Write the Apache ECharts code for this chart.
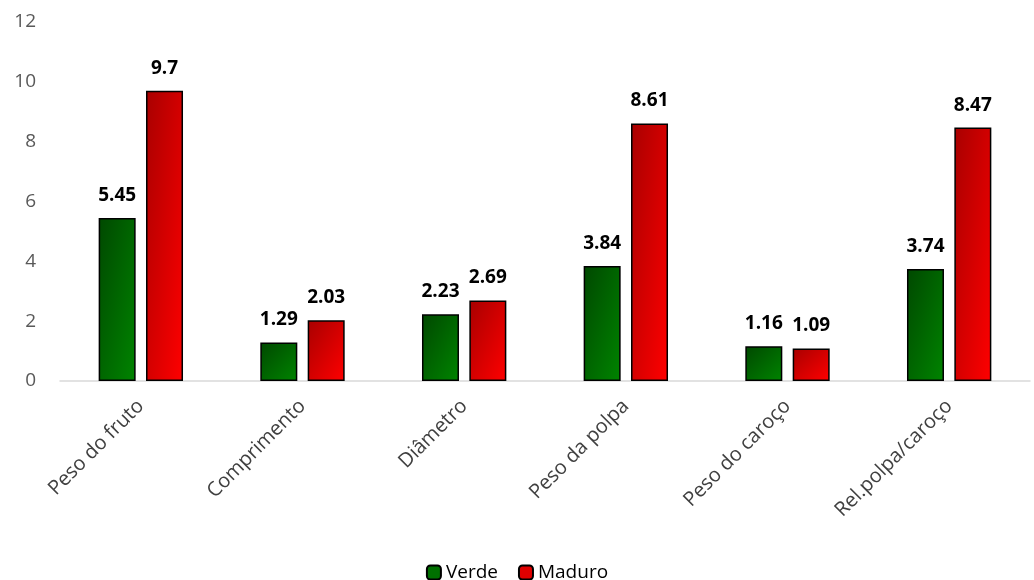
<!DOCTYPE html>
<html>
<head>
<meta charset="utf-8">
<script src="https://cdn.jsdelivr.net/npm/echarts@6/dist/echarts.min.js"></script>
<style>
  html, body { margin: 0; padding: 0; background: #fff; }
  #chart { width: 1034px; height: 580px; }
</style>
</head>
<body>
<div id="chart"></div>
<script>
var categorias = ['Peso do fruto', 'Comprimento', 'Diâmetro', 'Peso da polpa', 'Peso do caroço', 'Rel.polpa/caroço'];
var verde = [5.45, 1.29, 2.23, 3.84, 1.16, 3.74];
var maduro = [9.7, 2.03, 2.69, 8.61, 1.09, 8.47];
var yTicks = [0, 2, 4, 6, 8, 10, 12];

var fonte = '"Open Sans", "Noto Sans", sans-serif';
var larguraBarra = 37;
var pxPorUnidade = 359 / 12;

// degradê 45° "escalado com a forma" (como no Excel): escuro no canto sup. esquerdo
function gradiente(v, c1, c2) {
    var h = Math.max(v * pxPorUnidade, 1), w = larguraBarra;
    var d = h * h + w * w;
    return new echarts.graphic.LinearGradient(0, 0, 2 * h * h / d, 2 * w * w / d, [
        {offset: 0, color: c1},
        {offset: 1, color: c2}
    ]);
}

function itens(valores, c1, c2) {
    return valores.map(function (v) {
        return {value: v, itemStyle: {color: gradiente(v, c1, c2)}};
    });
}

var rotulo = {
    show: true,
    position: 'top',
    distance: 13,
    color: '#000',
    fontWeight: 'bold',
    fontSize: 19,
    fontFamily: fonte
};

var myChart = echarts.init(document.getElementById('chart'));
myChart.setOption({
    animation: false,
    grid: {left: 60, right: 4, top: 22, bottom: 199},
    legend: {
        top: 558,
        left: 'center',
        itemWidth: 14,
        itemHeight: 14,
        itemGap: 20,
        textStyle: {fontSize: 19, color: '#000', fontFamily: fonte},
        data: [
            {name: 'Verde', itemStyle: {color: '#007000'}},
            {name: 'Maduro', itemStyle: {color: '#e00000'}}
        ]
    },
    xAxis: {
        type: 'category',
        data: categorias,
        axisLine: {lineStyle: {color: '#d9d9d9', width: 1.5}},
        axisTick: {show: false},
        axisLabel: {rotate: 45, margin: 22, fontSize: 20, color: '#404040', fontFamily: fonte}
    },
    yAxis: {
        type: 'value',
        min: yTicks[0],
        max: yTicks[yTicks.length - 1],
        interval: 2,
        splitLine: {show: false},
        axisLine: {show: false},
        axisLabel: {margin: 24, fontSize: 19, color: '#595959', fontFamily: fonte}
    },
    series: [
        {
            name: 'Verde',
            type: 'bar',
            data: itens(verde, '#004800', '#008400'),
            barWidth: larguraBarra,
            barGap: '28%',
            itemStyle: {color: '#007000', borderColor: '#000', borderWidth: 1.5},
            label: rotulo
        },
        {
            name: 'Maduro',
            type: 'bar',
            data: itens(maduro, '#a80000', '#ff0000'),
            barWidth: larguraBarra,
            itemStyle: {color: '#e00000', borderColor: '#000', borderWidth: 1.5},
            label: rotulo
        }
    ]
});
</script>
</body>
</html>
